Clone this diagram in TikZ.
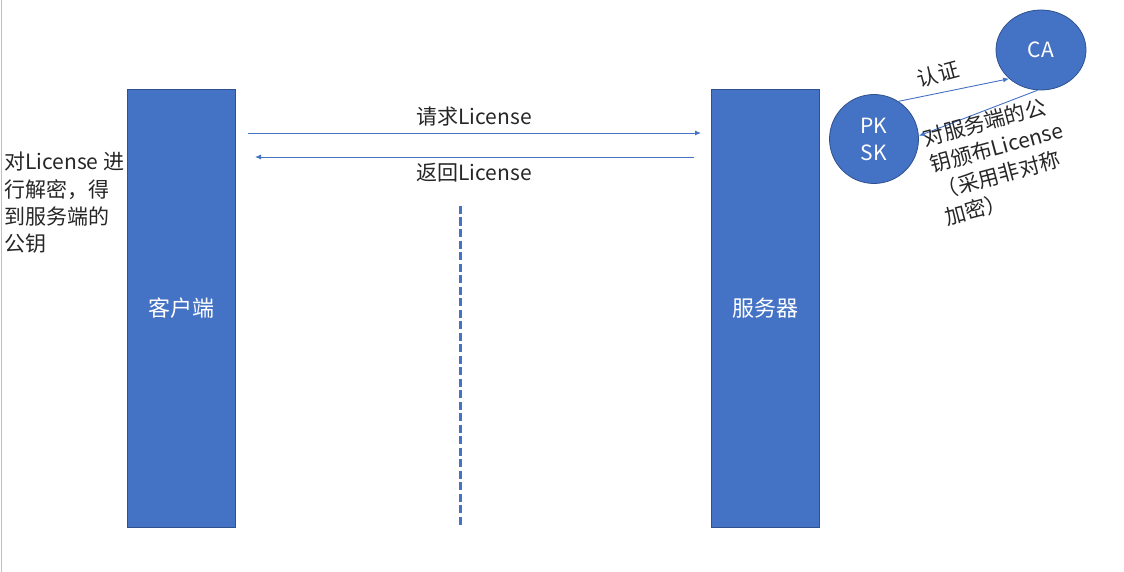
\documentclass[tikz,border=0pt]{standalone}
\usepackage{fontspec}
\setmainfont{Noto Sans CJK SC}
\usetikzlibrary{arrows.meta,shapes.geometric}
\definecolor{boxblue}{HTML}{4472C4}
\definecolor{boxedge}{HTML}{2F528F}
\definecolor{txt}{HTML}{262626}
\tikzset{
  bar/.style={draw=boxedge,line width=0.8pt,fill=boxblue,minimum width=108pt,minimum height=438pt,inner sep=0pt,text=white,font=\fontsize{22}{26}\selectfont},
  ball/.style={draw=boxedge,line width=0.8pt,fill=boxblue,circle,minimum size=89pt,inner sep=0pt,text=white,font=\fontsize{21}{27}\selectfont,align=center},
  conn/.style={draw=boxblue,line width=0.9pt,-{Latex[length=6pt,width=5pt]}},
  lbl/.style={text=txt,font=\fontsize{21}{27.3}\selectfont,inner sep=0pt}
}
\begin{document}
\begin{tikzpicture}[x=1pt,y=-1pt]
\useasboundingbox (0,0) rectangle (1124,572);
\draw[gray!50,line width=1pt] (1,0) -- (1,572);
\node[bar] (client) at (181,308) {客户端};
\node[bar] (server) at (765,308) {服务器};
\coordinate (r1) at (248,133);
\coordinate (r2) at (701,133);
\coordinate (b1) at (694,157);
\coordinate (b2) at (255,157);
\draw[conn] (r1) -- (r2);
\draw[conn] (b1) -- (b2);
\node[lbl] (reqlbl) at (474,117) {请求License};
\node[lbl] (retlbl) at (474,173) {返回License};
\coordinate (d1) at (460,206);
\coordinate (d2) at (460,526);
\draw[boxblue,line width=3pt,dash pattern=on 8pt off 3.5pt] (d1) -- (d2);
\node[lbl,align=left,anchor=north west] (dec) at (4,152) {对License 进\\行解密，得\\到服务端的\\公钥};
\node[ball] (pk) at (874,139) {PK\\SK};
\node[ball,ellipse,minimum width=90pt,minimum height=80pt] (ca) at (1041,50) {CA};
\draw[conn] (pk.57) -- (ca.222);
\draw[conn] (ca.265) -- (pk.4);
\node[lbl,rotate=15] (auth) at (938,74) {认证};
\node[lbl,rotate=15,align=left,anchor=north west] (issue) at (921,129) {对服务端的公\\钥颁布License\\（采用非对称\\加密）};
\end{tikzpicture}
\end{document}
